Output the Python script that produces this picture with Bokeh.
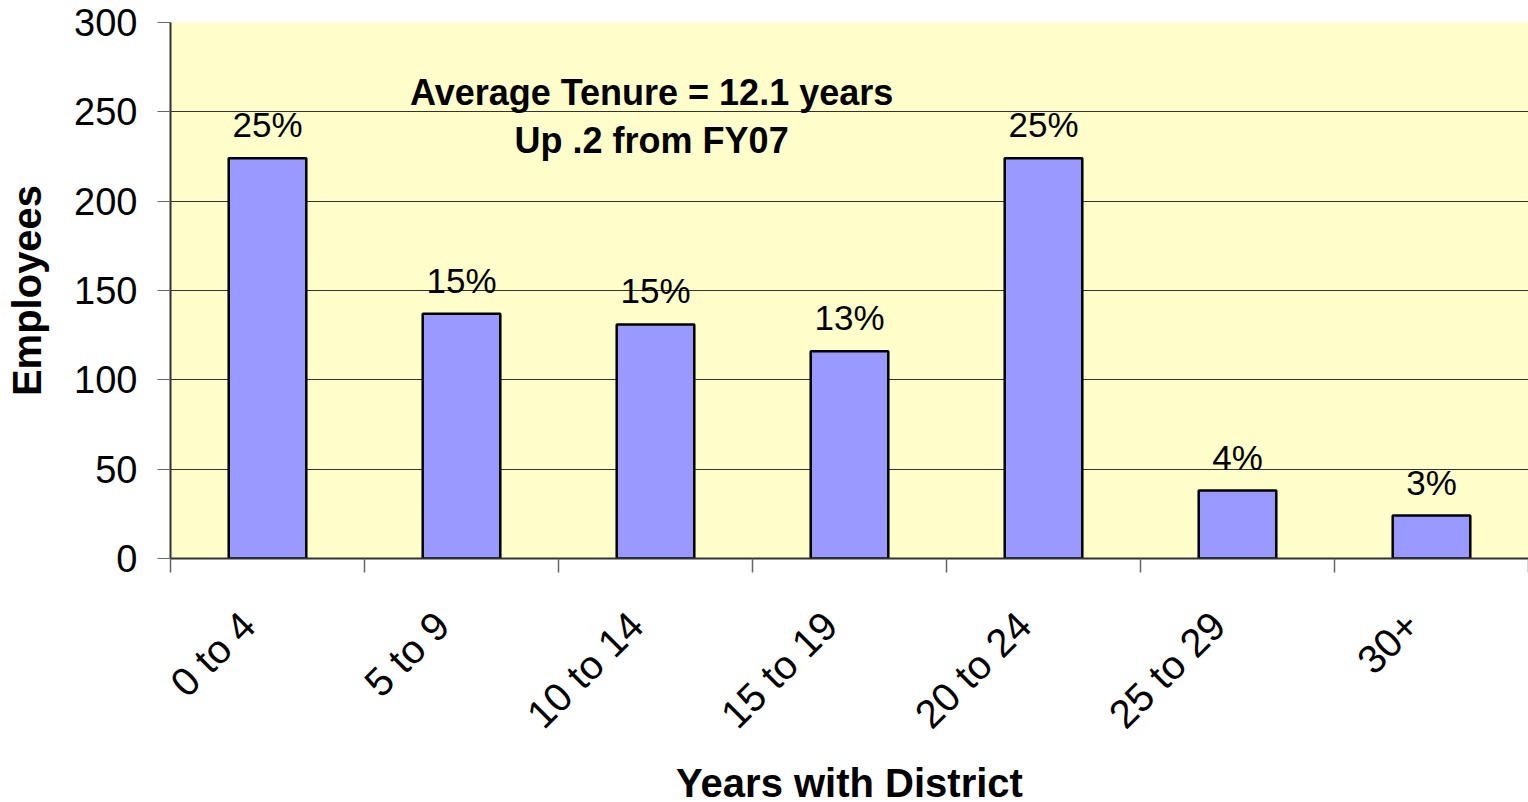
from math import pi
from bokeh.plotting import figure
from bokeh.models import ColumnDataSource, FixedTicker, Label, Range1d
from bokeh.core.properties import value
from bokeh.embed import file_html
from bokeh.resources import INLINE

categories = ["0 to 4", "5 to 9", "10 to 14", "15 to 19", "20 to 24", "25 to 29", "30+"]
employees = [224, 137, 131, 116, 224, 38, 24]
percent_labels = ["25%", "15%", "15%", "13%", "25%", "4%", "3%"]
y_ticks = [0, 50, 100, 150, 200, 250, 300]

FONT = "Liberation Sans"

centers = [i + 0.5 for i in range(len(categories))]
# rotated labels are anchored slightly left of the bar centre, as in the reference
label_pos = [c - 0.1 for c in centers]
src = ColumnDataSource(dict(x=centers, top=employees, lab=percent_labels, cat=categories))

p = figure(
    width=1528, height=794,
    frame_width=1358, frame_height=536,
    x_range=Range1d(0, len(categories)), y_range=Range1d(0, 300),
    output_backend="svg", toolbar_location=None,
    min_border_left=170, min_border_right=0, min_border_top=22, min_border_bottom=236,
)
p.background_fill_color = "#FFFFCC"
p.border_fill_color = "white"
p.outline_line_color = None

p.vbar(x="x", top="top", width=0.4, bottom=0, source=src,
       fill_color="#9999FF", line_color="black", line_width=2.5)

p.text(x="x", y="top", text="lab", source=src, y_offset=-14,
       text_align="center", text_baseline="bottom",
       text_font=value(FONT), text_font_size="35px", text_color="black")

# y axis
p.yaxis.ticker = FixedTicker(ticks=y_ticks)
p.yaxis.major_label_text_font = FONT
p.yaxis.major_label_text_font_size = "38px"
p.yaxis.major_label_text_color = "black"
p.yaxis.major_tick_out = 13
p.yaxis.major_tick_in = 0
p.yaxis.major_tick_line_color = "#666666"
p.yaxis.minor_tick_line_color = None
p.yaxis.axis_line_color = "#333333"
p.yaxis.axis_line_width = 2
p.yaxis.axis_label = "Employees"
p.yaxis.axis_label_text_font = FONT
p.yaxis.axis_label_text_font_style = "bold"
p.yaxis.axis_label_text_font_size = "40px"
p.yaxis.axis_label_text_color = "black"
p.yaxis.axis_label_standoff = 22
p.yaxis.major_label_standoff = 20

# x axis: labels at centres, ticks at boundaries (minor ticks)
p.xaxis.ticker = FixedTicker(ticks=label_pos, minor_ticks=list(range(len(categories) + 1)))
p.xaxis.major_label_overrides = {c: cat for c, cat in zip(label_pos, categories)}
p.xaxis.major_tick_line_color = None
p.xaxis.minor_tick_out = 14
p.xaxis.minor_tick_in = 0
p.xaxis.minor_tick_line_color = "#666666"
p.xaxis.minor_tick_line_width = 1.5
p.xaxis.axis_line_color = "#333333"
p.xaxis.axis_line_width = 2
p.xaxis.major_label_orientation = pi / 4
p.xaxis.major_label_text_font = FONT
p.xaxis.major_label_text_font_size = "40px"
p.xaxis.major_label_text_color = "black"
p.xaxis.major_label_standoff = 46
p.xaxis.axis_label = "Years with District"
p.xaxis.axis_label_text_font = FONT
p.xaxis.axis_label_text_font_style = "bold"
p.xaxis.axis_label_text_font_size = "40px"
p.xaxis.axis_label_text_color = "black"
p.xaxis.axis_label_standoff = 6

p.xgrid.grid_line_color = None
p.ygrid.ticker = FixedTicker(ticks=y_ticks)
p.ygrid.grid_line_color = "#333333"
p.ygrid.grid_line_width = 1.2

p.add_layout(Label(x=2.48, y=261, text="Average Tenure = 12.1 years",
                   text_align="center", text_baseline="middle",
                   text_font=FONT, text_font_style="bold", text_font_size="36px",
                   text_color="black"))
p.add_layout(Label(x=2.48, y=234, text="Up .2 from FY07",
                   text_align="center", text_baseline="middle",
                   text_font=FONT, text_font_style="bold", text_font_size="36px",
                   text_color="black"))

open("out.html", "w").write(file_html(p, INLINE))
